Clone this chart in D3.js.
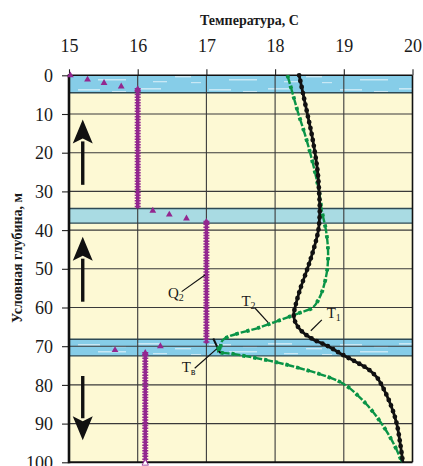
<!DOCTYPE html>
<html>
<head>
<meta charset="utf-8">
<script src="https://cdn.jsdelivr.net/npm/d3@7"></script>
<style>
  html, body { margin: 0; padding: 0; background: #ffffff; }
  svg { display: block; }
</style>
</head>
<body>
<svg id="chart" width="423" height="466"></svg>
<script>
// Temperature axis ticks and depth axis ticks
const tempTicks = [15, 16, 17, 18, 19, 20];
const depthTicks = [0, 10, 20, 30, 40, 50, 60, 70, 80, 90, 100];

// Layers crossing the section (depth in m)
const bandTop = [0, 34.4, 68.2];
const bandBottom = [4.5, 38.2, 72.5];
const bandKind = ["water", "clay", "water"];

// Curve T1 (black, dotted)
const t1Depth = [0, 5, 10, 15, 20, 25, 30, 35, 40, 45, 50, 55, 60, 62, 64, 66, 68, 70, 72, 74, 76, 78, 80, 85, 90, 95, 100];
const t1Temp  = [18.35, 18.41, 18.47, 18.53, 18.58, 18.62, 18.64, 18.65, 18.63, 18.56, 18.47, 18.37, 18.29, 18.27, 18.30, 18.38, 18.53, 18.77, 18.96, 19.17, 19.36, 19.48, 19.55, 19.68, 19.77, 19.82, 19.86];

// Curve T2 (green, dashed)
const t2Depth = [0, 5, 10, 15, 20, 25, 30, 35, 40, 45, 50, 55, 58, 60, 61.5, 65, 68.4, 70.6, 71.4, 72, 73.8, 75.7, 78, 80, 85, 90, 95, 100];
const t2Temp  = [18.18, 18.26, 18.34, 18.43, 18.51, 18.58, 18.64, 18.68, 18.74, 18.77, 18.76, 18.70, 18.63, 18.55, 18.34, 17.80, 17.24, 17.20, 17.17, 17.39, 17.93, 18.36, 18.78, 19.02, 19.33, 19.55, 19.72, 19.85];

// Q: constant-temperature intervals and single readings
const qSegTemp   = [16.0, 17.0, 16.11];
const qSegTop    = [3.3, 37.6, 71.5];
const qSegBottom = [34.4, 69.3, 100];
const qPtTemp  = [15.02, 15.27, 15.51, 15.76, 16.22, 16.46, 16.71, 15.67, 16.33];
const qPtDepth = [0, 1.1, 2.0, 2.9, 35.0, 36.0, 37.0, 71.0, 70.0];

// Flow direction arrows (depth from -> depth to)
const arrowTemp = 15.2;
const arrowFrom = [28.3, 58.5, 77.7];
const arrowTo   = [11.4, 41.7, 94.3];

// Tв point
const twTemp = 17.18, twDepth = 70.6;

const SERIF = "'Liberation Serif', 'Times New Roman', Times, serif";
const svg = d3.select("#chart");
const x = d3.scaleLinear().domain([15, 20]).range([69, 412.5]);
const y = d3.scaleLinear().domain([0, 100]).range([75.3, 462.3]);

const defs = svg.append("defs");
const pat = defs.append("pattern")
  .attr("id", "waterStreaks").attr("patternUnits", "userSpaceOnUse")
  .attr("width", 131).attr("height", 17);
pat.append("rect").attr("width", 131).attr("height", 17).attr("fill", "#86cde8");
[[6, 3, 24, 1.6], [44, 8, 16, 1.4], [78, 4, 22, 1.6], [98, 11, 28, 1.5], [22, 13, 14, 1.3], [60, 14, 10, 1.2], [112, 6, 14, 1.2]]
  .forEach(r => pat.append("rect").attr("x", r[0]).attr("y", r[1]).attr("width", r[2]).attr("height", r[3])
    .attr("fill", "#ffffff").attr("opacity", 0.55));

// Plot background
svg.append("rect").attr("x", x(15)).attr("y", y(0))
  .attr("width", x(20) - x(15)).attr("height", y(100) - y(0)).attr("fill", "#fdf9d4");

// Layers
const bands = d3.range(bandTop.length).map(i => ({ top: bandTop[i], bottom: bandBottom[i], kind: bandKind[i] }));
svg.append("g").selectAll("rect").data(bands).join("rect")
  .attr("x", x(15)).attr("width", x(20) - x(15))
  .attr("y", d => y(d.top)).attr("height", d => y(d.bottom) - y(d.top))
  .attr("fill", d => d.kind === "water" ? "url(#waterStreaks)" : "#a9dbe3");
svg.append("g").selectAll("line").data(bands.flatMap(d => [d.top, d.bottom]).filter(v => v > 0)).join("line")
  .attr("x1", x(15)).attr("x2", x(20)).attr("y1", d => y(d)).attr("y2", d => y(d))
  .attr("stroke", "#2e4a55").attr("stroke-width", 1.4);

// Grid
svg.append("g").selectAll("line").data(tempTicks.slice(1, -1)).join("line")
  .attr("x1", d => x(d)).attr("x2", d => x(d)).attr("y1", y(0)).attr("y2", y(100))
  .attr("stroke", "#3a3a3a").attr("stroke-width", 1.1);
svg.append("g").selectAll("line").data(depthTicks.slice(1, -1)).join("line")
  .attr("x1", x(15)).attr("x2", x(20)).attr("y1", d => y(d)).attr("y2", d => y(d))
  .attr("stroke", "#3a3a3a").attr("stroke-width", 1.1);

// Axes
const xAxis = svg.append("g").attr("transform", `translate(0,${y(0)})`)
  .call(d3.axisTop(x).tickValues(tempTicks).tickFormat(d3.format("d")).tickSize(6).tickPadding(17));
const yAxis = svg.append("g").attr("transform", `translate(${x(15)},0)`)
  .call(d3.axisLeft(y).tickValues(depthTicks).tickSize(7).tickPadding(9));
[xAxis, yAxis].forEach(g => {
  g.attr("font-family", null).attr("font-size", null);
  g.select(".domain").remove();
  g.selectAll(".tick line").attr("stroke", "#222").attr("stroke-width", 1.1);
  g.selectAll(".tick text").style("font-family", SERIF).style("font-size", "18px").attr("fill", "#1a1a1a");
});
yAxis.selectAll(".tick text").attr("dy", "0.34em");

// Frame
svg.append("line").attr("x1", x(15)).attr("x2", x(20)).attr("y1", y(0)).attr("y2", y(0)).attr("stroke", "#111").attr("stroke-width", 1.6);
svg.append("line").attr("x1", x(15)).attr("x2", x(20)).attr("y1", y(100)).attr("y2", y(100)).attr("stroke", "#111").attr("stroke-width", 2);
svg.append("line").attr("x1", x(20)).attr("x2", x(20)).attr("y1", y(0)).attr("y2", y(100)).attr("stroke", "#111").attr("stroke-width", 1.6);
svg.append("line").attr("x1", x(15)).attr("x2", x(15)).attr("y1", y(0) - 1).attr("y2", y(100) + 1).attr("stroke", "#111").attr("stroke-width", 2.6);

// Axis titles
svg.append("text").attr("x", 249.5).attr("y", 25).attr("text-anchor", "middle")
  .style("font-family", SERIF).style("font-size", "14px").style("font-weight", "bold").attr("fill", "#1a1a1a")
  .text("Температура, С");
svg.append("text").attr("transform", "translate(22,258) rotate(-90)").attr("text-anchor", "middle")
  .style("font-family", SERIF).style("font-size", "14px").style("font-weight", "bold").attr("fill", "#1a1a1a")
  .text("Условная глубина, м");

// Q intervals
const purple = "#93278f";
const qSegs = d3.range(qSegTemp.length).map(i => ({ t: qSegTemp[i], a: qSegTop[i], b: qSegBottom[i] }));
const qg = svg.append("g");
qg.selectAll("line.core").data(qSegs).join("line").attr("class", "core")
  .attr("x1", d => x(d.t)).attr("x2", d => x(d.t)).attr("y1", d => y(d.a)).attr("y2", d => y(d.b))
  .attr("stroke", purple).attr("stroke-width", 3.4);
qg.selectAll("line.teeth").data(qSegs).join("line").attr("class", "teeth")
  .attr("x1", d => x(d.t)).attr("x2", d => x(d.t)).attr("y1", d => y(d.a)).attr("y2", d => y(d.b))
  .attr("stroke", purple).attr("stroke-width", 6).attr("stroke-dasharray", "1.5 1.3");
const tri = d3.symbol().type(d3.symbolTriangle).size(20);
qg.selectAll("path.pt").data(d3.range(qPtTemp.length)).join("path").attr("class", "pt")
  .attr("d", tri).attr("transform", i => `translate(${x(qPtTemp[i])},${y(qPtDepth[i])})`)
  .attr("fill", purple);
qg.selectAll("path.segtop").data(qSegs).join("path").attr("class", "segtop")
  .attr("d", tri).attr("transform", d => `translate(${x(d.t)},${y(d.a) + 1})`).attr("fill", purple);
qg.append("path").attr("d", d3.symbol().type(d3.symbolTriangle).size(18))
  .attr("transform", `translate(${x(qSegTemp[2])},${y(100) + 1})`)
  .attr("fill", "#fff").attr("stroke", purple).attr("stroke-width", 0.8);

// Curves
const line = d3.line().x(d => x(d[0])).y(d => y(d[1])).curve(d3.curveCatmullRom.alpha(0.5));
const t1 = t1Temp.map((t, i) => [t, t1Depth[i]]);
const t2 = t2Temp.map((t, i) => [t, t2Depth[i]]);

const green = "#0a9447";
svg.append("path").attr("d", line(t2)).attr("fill", "none")
  .attr("stroke", green).attr("stroke-width", 2.4).attr("stroke-dasharray", "9 2");
svg.append("path").attr("d", line(t2)).attr("fill", "none")
  .attr("stroke", green).attr("stroke-width", 3.8).attr("stroke-dasharray", "3 8");

svg.append("path").attr("d", line(t1)).attr("fill", "none")
  .attr("stroke", "#111").attr("stroke-width", 2.8);
svg.append("path").attr("d", line(t1)).attr("fill", "none")
  .attr("stroke", "#111").attr("stroke-width", 4.8).attr("stroke-linecap", "round")
  .attr("stroke-dasharray", "0 6");

// Tв marker
svg.append("line").attr("x1", x(17.1)).attr("y1", y(68.0)).attr("x2", x(17.2)).attr("y2", y(71.8))
  .attr("stroke", "#111").attr("stroke-width", 2);
svg.append("circle").attr("cx", x(twTemp)).attr("cy", y(twDepth)).attr("r", 2.6).attr("fill", green);

// Arrows
const arrows = d3.range(arrowFrom.length).map(i => ({ a: arrowFrom[i], b: arrowTo[i] }));
const ag = svg.append("g");
arrows.forEach(d => {
  const x0 = x(arrowTemp), ya = y(d.a), yb = y(d.b);
  const dir = yb < ya ? -1 : 1;
  const headLen = 24, headHalf = 10;
  ag.append("line").attr("x1", x0).attr("x2", x0).attr("y1", ya).attr("y2", yb - dir * headLen + dir * 2)
    .attr("stroke", "#111").attr("stroke-width", 3.4);
  ag.append("path")
    .attr("d", `M${x0},${yb} L${x0 - headHalf},${yb - dir * headLen} L${x0},${yb - dir * (headLen - 5)} L${x0 + headHalf},${yb - dir * headLen} Z`)
    .attr("fill", "#111");
});

// Labels with leaders
const labels = [
  { main: "Q", sub: "2", t: 16.44, d: 57.6, l: [16.64, 55.9, 16.98, 51.6] },
  { main: "T", sub: "2", t: 17.51, d: 59.6, l: [17.71, 60.2, 17.90, 63.9] },
  { main: "T", sub: "1", t: 18.75, d: 62.7, l: [18.68, 63.2, 18.52, 66.0] },
  { main: "T", sub: "в", t: 16.64, d: 76.6, l: [16.83, 75.7, 17.15, 70.7] }
];
const lg = svg.append("g");
labels.forEach(d => {
  lg.append("line").attr("x1", x(d.l[0])).attr("y1", y(d.l[1])).attr("x2", x(d.l[2])).attr("y2", y(d.l[3]))
    .attr("stroke", "#111").attr("stroke-width", 1.2);
  const tx = lg.append("text").attr("x", x(d.t)).attr("y", y(d.d))
    .style("font-family", SERIF).style("font-size", "15px").attr("fill", "#1a1a1a");
  tx.append("tspan").text(d.main);
  tx.append("tspan").style("font-size", "10px").attr("dy", 3).text(d.sub);
});
</script>
</body>
</html>
